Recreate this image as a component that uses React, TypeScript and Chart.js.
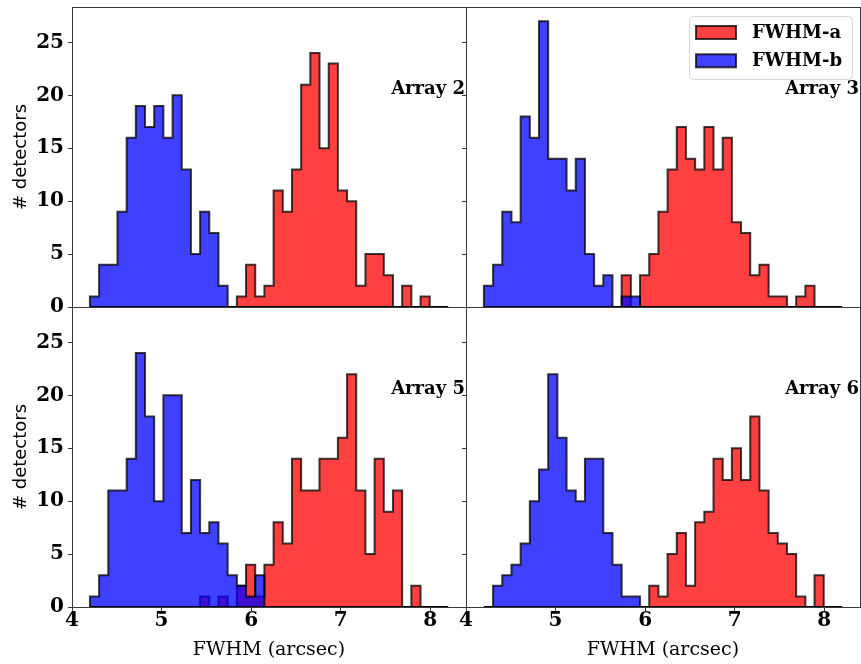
import React, { useEffect, useRef } from 'react';
import Chart from 'chart.js/auto';

// ---- data ----
const BIN_START = 4.2;
const BIN_END = 8.2;
const N_BINS = 39;

const X_TICKS = [4, 5, 6, 7, 8];
const Y_TICKS = [0, 5, 10, 15, 20, 25];
const X_MIN = 4;
const X_MAX = 8.4;
const Y_MAX = 28.35;

const SERIES_LABELS = ['FWHM-a', 'FWHM-b'];
const PANEL_LABELS = ['Array 2', 'Array 3', 'Array 5', 'Array 6'];

const ARRAY2_A = [0,0,0,0,0,0,0,0,0,0,0,0,0,0,0,0,1,4,1,2,11,9,13,21,24,15,23,11,10,2,5,5,3,0,2,0,1,0,0];
const ARRAY2_B = [1,4,4,9,16,19,17,19,16,20,13,5,9,7,2,0,0,0,0,0,0,0,0,0,0,0,0,0,0,0,0,0,0,0,0,0,0,0,0];
const ARRAY3_A = [0,0,0,0,0,0,0,0,0,0,0,0,0,0,0,3,0,3,5,9,13,17,14,13,17,13,16,8,7,3,4,1,1,0,1,2,0,0,0];
const ARRAY3_B = [2,4,9,8,18,16,27,14,14,11,14,5,2,3,0,1,1,0,0,0,0,0,0,0,0,0,0,0,0,0,0,0,0,0,0,0,0,0,0];
const ARRAY5_A = [0,0,0,0,0,0,0,0,0,0,0,0,1,0,1,0,2,4,1,4,8,6,14,11,11,14,14,16,22,11,5,14,9,11,0,2,0,0,0];
const ARRAY5_B = [1,3,11,11,14,24,18,10,20,20,7,12,7,8,6,3,2,1,3,0,0,0,0,0,0,0,0,0,0,0,0,0,0,0,0,0,0,0,0];
const ARRAY6_A = [0,0,0,0,0,0,0,0,0,0,0,0,0,0,0,0,0,0,2,1,5,7,2,8,9,14,12,15,12,18,11,7,6,5,1,0,3,0,0];
const ARRAY6_B = [0,2,3,4,6,10,13,22,16,11,10,14,14,7,4,1,1,0,0,0,0,0,0,0,0,0,0,0,0,0,0,0,0,0,0,0,0,0,0];

// ---- styles ----
const RED_FILL = 'rgba(255,0,0,0.75)';
const BLUE_FILL = 'rgba(0,0,255,0.75)';
const EDGE = 'rgba(0,0,0,0.75)';
const SPINE = '#3a3a3a';
const SERIF = '"DejaVu Serif", serif';
const SANS = '"DejaVu Sans", sans-serif';

function binEdges(): number[] {
  return Array.from({ length: N_BINS + 1 }, (_, i) => BIN_START + (i * (BIN_END - BIN_START)) / N_BINS);
}

function stepOutline(counts: number[]) {
  const e = binEdges();
  const pts: { x: number; y: number }[] = [{ x: e[0], y: 0 }];
  counts.forEach((c, i) => {
    pts.push({ x: e[i], y: c });
    pts.push({ x: e[i + 1], y: c });
  });
  pts.push({ x: e[N_BINS], y: 0 });
  return pts;
}

type PanelProps = {
  left: number;
  top: number;
  width: number;
  height: number;
  red: number[];
  blue: number[];
  label: string;
  yAxisW: number;
  xAxisH: number;
  padTop: number;
  showYLabels: boolean;
  showXLabels: boolean;
  legend: boolean;
};

function Panel(p: PanelProps) {
  const ref = useRef<HTMLCanvasElement>(null);
  useEffect(() => {
    const framePlugin = {
      id: 'frame',
      afterDatasetsDraw(chart: any) {
        const { ctx, chartArea: a } = chart;
        ctx.save();
        ctx.strokeStyle = SPINE;
        ctx.lineWidth = 1;
        ctx.strokeRect(Math.round(a.left) + 0.5, Math.round(a.top) + 0.5, Math.round(a.right - a.left), Math.round(a.bottom - a.top));
        ctx.restore();
      },
    };
    const labelPlugin = {
      id: 'panelLabel',
      afterDraw(chart: any) {
        const { ctx, chartArea: a } = chart;
        ctx.save();
        ctx.font = `bold 18px ${SERIF}`;
        ctx.fillStyle = '#000';
        ctx.textAlign = 'right';
        ctx.textBaseline = 'middle';
        ctx.fillText(p.label, a.right - 1, a.top + 82);
        if (p.legend) {
          const ds = chart.data.datasets.slice(0, 2);
          const tw = Math.max(...ds.map((d: any) => ctx.measureText(d.label).width));
          const boxW = 7 + 40 + 16 + tw + 10;
          const boxH = 63;
          const bx = a.right - 8 - boxW;
          const by = a.top + 9;
          ctx.beginPath();
          (ctx as any).roundRect(bx + 0.5, by + 0.5, boxW, boxH, 4);
          ctx.fillStyle = 'rgba(255,255,255,0.85)';
          ctx.fill();
          ctx.strokeStyle = '#d4d4d4';
          ctx.lineWidth = 1;
          ctx.stroke();
          ds.forEach((d: any, i: number) => {
            const py = by + 10 + i * 28.3;
            ctx.fillStyle = d.backgroundColor;
            ctx.fillRect(bx + 7, py, 40, 13);
            ctx.strokeStyle = EDGE;
            ctx.lineWidth = 2;
            ctx.strokeRect(bx + 7, py, 40, 13);
            ctx.fillStyle = '#000';
            ctx.textAlign = 'left';
            ctx.textBaseline = 'middle';
            ctx.fillText(d.label, bx + 63, py + 7);
          });
        }
        ctx.restore();
      },
    };
    const e = binEdges();
    const chart = new Chart(ref.current!, {
      type: 'line',
      data: {
        datasets: [
          {
            label: SERIES_LABELS[0],
            data: stepOutline(p.red),
            borderColor: EDGE,
            borderWidth: 2,
            backgroundColor: RED_FILL,
            fill: 'origin',
            pointRadius: 0,
            tension: 0,
            order: 2,
          },
          {
            label: SERIES_LABELS[1],
            data: stepOutline(p.blue),
            borderColor: EDGE,
            borderWidth: 2,
            backgroundColor: BLUE_FILL,
            fill: 'origin',
            pointRadius: 0,
            tension: 0,
            order: 1,
          },
          {
            label: 'base',
            data: [
              { x: e[0], y: 0 },
              { x: e[N_BINS], y: 0 },
            ],
            borderColor: EDGE,
            borderWidth: 2,
            fill: false,
            pointRadius: 0,
            order: 0,
          },
        ],
      } as any,
      options: {
        animation: false,
        responsive: false,
        devicePixelRatio: 1,
        events: [],
        layout: { autoPadding: false, padding: { top: p.padTop, right: 1, left: 0, bottom: 0 } },
        plugins: { legend: { display: false }, tooltip: { enabled: false } },
        scales: {
          x: {
            type: 'linear',
            min: X_MIN,
            max: X_MAX,
            afterBuildTicks: (axis: any) => {
              axis.ticks = X_TICKS.map((v) => ({ value: v }));
            },
            afterFit: (s: any) => {
              s.height = p.xAxisH;
              s.paddingLeft = 0;
              s.paddingRight = 0;
              s.paddingTop = 0;
              s.paddingBottom = 0;
            },
            ticks: {
              display: p.showXLabels,
              color: '#000',
              padding: 0,
              font: { family: SERIF, size: 20, weight: 'bold', lineHeight: 1.0 },
              maxRotation: 0,
            },
            grid: { drawOnChartArea: false, drawTicks: p.showXLabels, tickLength: 4, tickColor: SPINE, tickWidth: 1 },
            border: { display: false },
            title: {
              display: p.showXLabels,
              text: 'FWHM (arcsec)',
              color: '#000',
              font: { family: SERIF, size: 19, weight: 'normal' },
              padding: { top: 0, bottom: 3 },
            },
          },
          y: {
            type: 'linear',
            min: 0,
            max: Y_MAX,
            afterBuildTicks: (axis: any) => {
              axis.ticks = Y_TICKS.map((v) => ({ value: v }));
            },
            afterFit: (s: any) => {
              s.width = p.yAxisW;
              s.paddingLeft = 0;
              s.paddingRight = 0;
              s.paddingTop = 0;
              s.paddingBottom = 0;
            },
            ticks: {
              display: p.showYLabels,
              color: '#000',
              padding: 4,
              font: { family: SERIF, size: 20, weight: 'bold' },
            },
            grid: { drawOnChartArea: false, drawTicks: true, tickLength: 4, tickColor: SPINE, tickWidth: 1 },
            border: { display: false },
            title: {
              display: p.showYLabels,
              text: '# detectors',
              color: '#000',
              font: { family: SANS, size: 18, weight: 'normal' },
              padding: { top: 11, bottom: 0 },
            },
          },
        },
      } as any,
      plugins: [framePlugin, labelPlugin],
    });
    return () => chart.destroy();
  }, []);
  return (
    <canvas
      ref={ref}
      width={p.width}
      height={p.height}
      style={{ position: 'absolute', left: p.left, top: p.top, width: p.width, height: p.height }}
    />
  );
}

export default function App() {
  return (
    <div style={{ position: 'absolute', left: 0, top: 0, width: 861, height: 664, background: '#fff', overflow: 'hidden' }}>
      <Panel left={0} top={0} width={467} height={330} red={ARRAY2_A} blue={ARRAY2_B} label={PANEL_LABELS[0]}
        yAxisW={72} xAxisH={23} padTop={7} showYLabels={true} showXLabels={false} legend={false} />
      <Panel left={450} top={0} width={411} height={330} red={ARRAY3_A} blue={ARRAY3_B} label={PANEL_LABELS[1]}
        yAxisW={16} xAxisH={23} padTop={7} showYLabels={false} showXLabels={false} legend={true} />
      <Panel left={0} top={300} width={467} height={364} red={ARRAY5_A} blue={ARRAY5_B} label={PANEL_LABELS[2]}
        yAxisW={72} xAxisH={57} padTop={7} showYLabels={true} showXLabels={true} legend={false} />
      <Panel left={450} top={300} width={411} height={364} red={ARRAY6_A} blue={ARRAY6_B} label={PANEL_LABELS[3]}
        yAxisW={16} xAxisH={57} padTop={7} showYLabels={false} showXLabels={true} legend={false} />
    </div>
  );
}
